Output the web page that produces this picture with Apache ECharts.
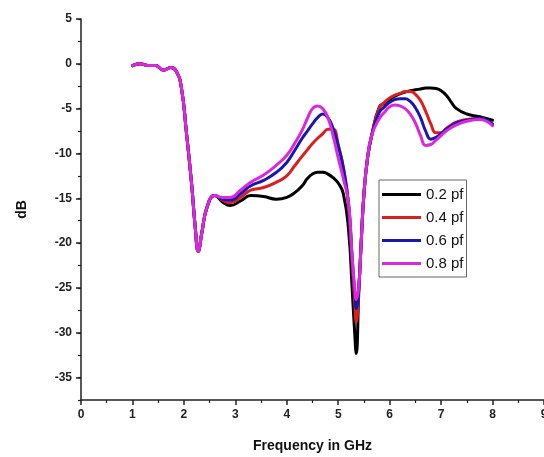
<!DOCTYPE html>
<html>
<head>
<meta charset="utf-8">
<script src="https://cdn.jsdelivr.net/npm/echarts@6/dist/echarts.min.js"></script>
<style>
  html, body { margin: 0; padding: 0; background: #fff; }
  #chart { width: 544px; height: 457px; }
</style>
</head>
<body>
<div id="chart"></div>
<script>
// frequency grid (GHz), shared by all curves
const freq = [
  1.0, 1.15, 1.3, 1.45, 1.6, 1.75, 1.85, 1.95, 2.05, 2.15, 2.22, 2.28, 2.35, 2.45, 2.6,
  2.75, 2.9, 3.1, 3.3, 3.55, 3.8, 4.0, 4.15, 4.3, 4.4,
  4.5, 4.6, 4.7, 4.8, 4.9, 5.0, 5.1, 5.2, 5.27, 5.32,
  5.35, 5.4, 5.45, 5.5, 5.57, 5.65, 5.8, 5.9, 6.0, 6.1,
  6.2, 6.3, 6.4, 6.5, 6.6, 6.7, 6.8, 6.9, 7.0, 7.1,
  7.2, 7.3, 7.5, 7.75, 8.0,
]
const db02 = [
  -0.2, 0, -0.2, -0.2, -0.7, -0.4, -0.8, -2.6, -7.7, -13.4, -18.2, -20.9, -18.8, -16.0, -14.7,
  -15.4, -15.8, -15.3, -14.7, -14.8, -15.1, -14.9, -14.4, -13.6, -12.8,
  -12.3, -12.1, -12.1, -12.3, -12.7, -13.3, -14.5, -18.5, -25.0, -30.0,
  -32.3, -25.5, -19.5, -14.5, -10.5, -8.0, -4.8, -4.4, -4.0, -3.6,
  -3.35, -3.15, -3.0, -2.9, -2.8, -2.7, -2.7, -2.75, -3.0, -3.5,
  -4.3, -5.0, -5.6, -5.9, -6.3,
]
const db04 = [
  -0.2, 0, -0.2, -0.2, -0.7, -0.4, -0.8, -2.6, -7.7, -13.4, -18.2, -20.9, -18.8, -16.0, -14.7,
  -15.2, -15.5, -14.9, -14.1, -13.8, -13.2, -12.5, -11.4, -10.3, -9.6,
  -8.9, -8.3, -7.8, -7.3, -7.3, -9.0, -11.6, -15.8, -22.0, -26.5,
  -28.8, -25.0, -19.5, -14.5, -10.5, -8.0, -4.9, -4.3, -3.8, -3.5,
  -3.3, -3.1, -3.1, -3.4, -4.1, -5.3, -6.7, -7.7, -7.7, -7.2,
  -6.8, -6.5, -6.2, -6.1, -6.8,
]
const db06 = [
  -0.2, 0, -0.2, -0.2, -0.7, -0.4, -0.8, -2.6, -7.7, -13.4, -18.2, -20.9, -18.8, -16.0, -14.7,
  -15.1, -15.2, -14.5, -13.6, -13.0, -12.1, -11.0, -9.7, -8.3, -7.5,
  -6.7, -6.0, -5.6, -6.0, -7.2, -9.2, -11.6, -15.5, -21.5, -25.5,
  -27.3, -25.0, -19.5, -14.5, -10.5, -8.0, -5.4, -4.8, -4.3, -4.0,
  -3.9, -3.9, -4.2, -4.9, -6.0, -7.5, -8.4, -8.2, -7.8, -7.3,
  -6.9, -6.6, -6.3, -6.1, -6.7,
]
const db08 = [
  -0.2, 0, -0.2, -0.2, -0.7, -0.4, -0.8, -2.6, -7.7, -13.4, -18.2, -20.9, -18.8, -16.0, -14.7,
  -14.9, -14.9, -14.1, -13.2, -12.4, -11.3, -10.2, -8.9, -7.4, -6.1,
  -5.0, -4.7, -5.0, -6.0, -8.0, -10.5, -12.8, -15.5, -21.5, -25.0,
  -26.3, -24.8, -19.5, -14.5, -10.5, -8.0, -6.1, -5.4, -4.8, -4.6,
  -4.7, -5.0, -5.6, -6.6, -8.0, -9.1, -9.0, -8.5, -8.0, -7.5,
  -7.1, -6.8, -6.4, -6.2, -6.9,
]
const seriesNames = ['0.2 pf', '0.4 pf', '0.6 pf', '0.8 pf']
const seriesColors = ['#000000', '#dc1e1e', '#1818b0', '#dc28dc']
const majorY = [-35, -30, -25, -20, -15, -10, -5, 0, 5]

const font = '"Liberation Sans", Arial, sans-serif'
const chart = echarts.init(document.getElementById('chart'))

const curves = [db02, db04, db06, db08].map((vals, k) => ({
  name: seriesNames[k],
  type: 'line',
  data: freq.map((f, i) => [f, vals[i]]),
  symbol: 'none',
  smooth: 0.5,
  lineStyle: { color: seriesColors[k], width: 3, cap: 'round', join: 'round' },
  itemStyle: { color: seriesColors[k] },
  animation: false,
  z: 2 + k,
}))

const yBase = {
  type: 'value',
  min: -37.5,
  max: 5,
  interval: 2.5,
  position: 'left',
  splitLine: { show: false },
}

chart.setOption({
  backgroundColor: '#fff',
  animation: false,
  grid: { left: 81, top: 19, right: 0, bottom: 57, outerBoundsMode: 'none' },
  legend: {
    data: seriesNames,
    orient: 'vertical',
    left: 379,
    top: 180,
    icon: 'rect',
    itemWidth: 39,
    itemHeight: 3,
    itemGap: 8,
    padding: [7, 3, 6, 3],
    borderColor: '#666',
    borderWidth: 1,
    backgroundColor: '#fff',
    textStyle: { fontSize: 15, lineHeight: 14, color: '#111', fontFamily: font },
  },
  xAxis: {
    type: 'value',
    min: 0,
    max: 9,
    interval: 1,
    name: 'Frequency in GHz',
    nameLocation: 'middle',
    nameGap: 39,
    nameTextStyle: { fontSize: 14, fontWeight: 'bold', color: '#111', fontFamily: font },
    axisLine: { onZero: false, lineStyle: { color: '#222', width: 1.5 } },
    axisTick: { length: 5, lineStyle: { color: '#222', width: 1.5 } },
    minorTick: { show: true, splitNumber: 2, length: 3, lineStyle: { color: '#222', width: 1.2 } },
    axisLabel: { fontSize: 12, fontWeight: 'bold', color: '#222', fontFamily: font, margin: 9 },
    splitLine: { show: false },
  },
  yAxis: [
    {
      ...yBase,
      name: 'dB',
      nameLocation: 'middle',
      nameGap: 52,
      nameRotate: 90,
      nameTextStyle: { fontSize: 14, fontWeight: 'bold', color: '#111', fontFamily: font },
      axisLine: { lineStyle: { color: '#222', width: 1.5 } },
      axisTick: { customValues: majorY, length: 5, lineStyle: { color: '#222', width: 1.5 } },
      axisLabel: { customValues: majorY, fontSize: 12, fontWeight: 'bold', color: '#222', fontFamily: font, margin: 9 },
    },
    {
      ...yBase,
      axisLine: { show: false },
      axisTick: { length: 3, lineStyle: { color: '#222', width: 1.2 } },
      axisLabel: { show: false },
    },
  ],
  series: curves,
})
</script>
</body>
</html>
